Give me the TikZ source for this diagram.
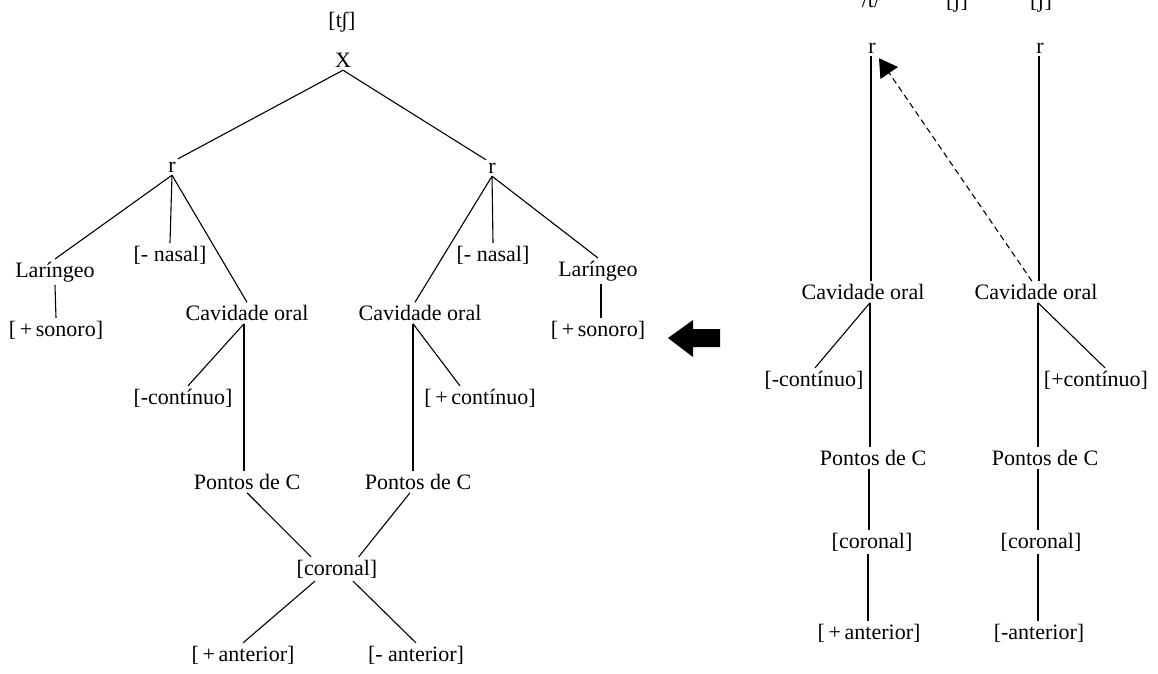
\documentclass[tikz,border=0pt]{standalone}
\usepackage{fontspec}
\setmainfont{Liberation Serif}
\usetikzlibrary{arrows.meta,calc}
\begin{document}
\begin{tikzpicture}[x=1pt,y=-1pt,
  every node/.style={font=\fontsize{22}{25}\selectfont, inner sep=3pt, outer sep=0pt},
  tie/.style={line width=1.1pt},
  spread/.style={line width=1.1pt, dash pattern=on 6pt off 4pt,
                 -{Triangle[length=18pt,width=21pt]}},
  seg/.style={anchor=base},
]
\useasboundingbox (0,0) rectangle (1158,673);

% ---------- left: the affricate as one root with two branches ----------
\node (tsh)  at (342,22)  {[t\kern-1pt{}ʃ]};
\node (X)    at (343,60)  {X};
\node (r1)   at (172,167) {r};
\node (r2)   at (492,168) {r};
\node (lar1) at (55,272)  {Laríngeo};
\node (nas1) at (170,255) {[- nasal]};
\node (cav1) at (247,313) {Cavidade oral};
\node (son1) at (56,330)  {[\,+\,sonoro]};
\node (cont1) at (183,398) {[-contínuo]};
\node (pc1)  at (247,482) {Pontos de C};
\node (cav2) at (420,313) {Cavidade oral};
\node (nas2) at (493,255) {[- nasal]};
\node (lar2) at (598,271) {Laríngeo};
\node (son2) at (598,330) {[\,+\,sonoro]};
\node (cont2) at (480,398) {[\,+\,contínuo]};
\node (pc2)  at (418,482) {Pontos de C};
\node (cor)  at (337,569) {[coronal]};
\node (ant1) at (243,655) {[\,+\,anterior]};
\node (ant2) at (416,655) {[- anterior]};

\draw[tie] (X.south) -- ([xshift=6pt]r1.north);
\draw[tie] (X.south) -- ([xshift=-6pt]r2.north);
\draw[tie] (r1.south) -- (lar1.north);
\draw[tie] (r1.south) -- (nas1.north);
\draw[tie] (r1.south) -- (cav1.north);
\draw[tie] (lar1.south) -- (son1.north);
\draw[tie] ([xshift=-3pt]cav1.south) -- ([xshift=5pt]cont1.north);
\draw[tie] ([xshift=-3pt]cav1.south) -- ([xshift=-3pt]cav1.south |- pc1.north);
\draw[tie] (pc1.south) -- ($(cor.north)!0.6!(cor.north west)$);
\draw[tie] (r2.south) -- ([xshift=-5pt]cav2.north);
\draw[tie] (r2.south) -- (nas2.north);
\draw[tie] (r2.south) -- (lar2.north);
\draw[tie] ([xshift=3pt]lar2.south) -- ([xshift=3pt]lar2.south |- son2.north);
\draw[tie] ([xshift=-7pt]cav2.south) -- ([xshift=-20pt]cont2.north);
\draw[tie] ([xshift=-7pt]cav2.south) -- ([xshift=-7pt]cav2.south |- pc2.north);
\draw[tie] ([xshift=-8pt]pc2.south) -- ($(cor.north)!0.5!(cor.north east)$);
\draw[tie] ([xshift=-22pt]cor.south) -- (ant1.north);
\draw[tie] ([xshift=16pt]cor.south) -- (ant2.north);

% ---------- block arrow between the two representations ----------
\fill (720,329) -- (693,329) -- (693,320) -- (668,338) -- (693,357)
      -- (693,347) -- (720,347) -- cycle;

% ---------- right: two roots, spreading of Cavidade oral ----------
\node[seg] (tt)  at (871,7)  {/t/};
\node[seg] (sh1) at (957,7)  {[ʃ]};
\node[seg] (sh2) at (1041,7) {[ʃ]};
\node (rA)    at (872,48)  {r};
\node (rB)    at (1040,48) {r};
\node (cavA)  at (863,292) {Cavidade oral};
\node (cavB)  at (1036,292) {Cavidade oral};
\node (contA) at (814,380) {[-contínuo]};
\node (contB) at (1096,380) {[+contínuo]};
\node (pcA)   at (873,458) {Pontos de C};
\node (pcB)   at (1045,458) {Pontos de C};
\node (corA)  at (872,542) {[coronal]};
\node (corB)  at (1041,542) {[coronal]};
\node (antA)  at (869,633) {[\,+\,anterior]};
\node (antB)  at (1039,633) {[-anterior]};

\draw[tie] ([xshift=-1pt]rA.south) -- ([xshift=-1pt]rA.south |- cavA.north);
\draw[tie] ([xshift=-1pt]rB.south) -- ([xshift=-1pt]rB.south |- cavB.north);
\draw[spread] ([xshift=-4pt]cavB.north) -- ([xshift=7pt,yshift=-2pt]rA.south);
\draw[tie] ([xshift=7pt]cavA.south) -- ([xshift=1pt]contA.north);
\draw[tie] ([xshift=7pt]cavA.south) -- ([xshift=7pt]cavA.south |- pcA.north);
\draw[tie] ([xshift=-4pt]pcA.south) -- ([xshift=-4pt]pcA.south |- corA.north);
\draw[tie] ([xshift=-4pt]corA.south) -- ([xshift=-4pt]corA.south |- antA.north);
\draw[tie] ([xshift=2pt]cavB.south) -- ([xshift=9pt]contB.north);
\draw[tie] ([xshift=2pt]cavB.south) -- ([xshift=2pt]cavB.south |- pcB.north);
\draw[tie] ([xshift=-7pt]pcB.south) -- ([xshift=-7pt]pcB.south |- corB.north);
\draw[tie] ([xshift=-3pt]corB.south) -- ([xshift=-3pt]corB.south |- antB.north);
\end{tikzpicture}
\end{document}
